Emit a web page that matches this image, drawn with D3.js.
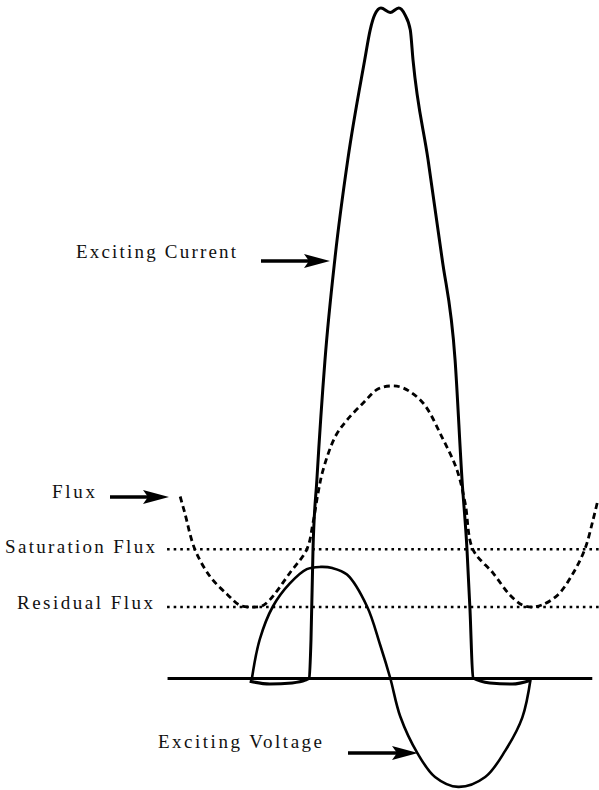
<!DOCTYPE html>
<html>
<head>
<meta charset="utf-8">
<script src="https://cdn.jsdelivr.net/npm/d3@7"></script>
<style>
  body { margin: 0; background: #fff; }
  text { font-family: "Liberation Serif", "Times New Roman", serif; fill: #111; }
</style>
</head>
<body>
<div id="chart"></div>
<script>
// horizontal: electrical degrees, vertical: per-unit (1 = peak voltage)
var voltageDeg = [0, 10, 27, 49, 71, 89, 104, 123, 149, 166, 179, 192, 214, 237, 267, 302, 328, 350, 361];
var voltageVal = [0, 0.35, 0.65, 0.86, 0.99, 1.01, 1.0, 0.94, 0.65, 0.3, 0, -0.35, -0.68, -0.9, -0.99, -0.9, -0.66, -0.36, 0];

var currentDeg = [-3, 23, 52, 69, 74, 76.4, 79, 84, 94.5, 107.5, 124, 146, 153, 159, 167, 179, 190, 198, 205, 208.5, 228, 246, 263, 272, 278.4, 282.3, 286.2, 308, 337, 361];
var currentVal = [-0.03, -0.055, -0.045, -0.02, 0, 0.35, 1.17, 1.8, 2.89, 3.82, 4.71, 5.62, 5.89, 6.03, 6.09, 6.05, 6.09, 6.03, 5.89, 5.62, 4.71, 3.82, 2.89, 1.8, 1.17, 0.62, 0, -0.045, -0.055, -0.02];

var fluxDeg = [-93, -87, -74, -54, -32, -15.5, 1, 13, 23, 49, 71, 79, 85.5, 92, 107.5, 123, 144, 163, 180, 196, 221.5, 246, 265.5, 276, 286, 312, 334, 350, 363, 375.5, 396, 416, 431, 441.6, 448];
var fluxVal = [1.65, 1.5, 1.17, 0.92, 0.76, 0.66, 0.645, 0.655, 0.71, 0.955, 1.17, 1.41, 1.68, 1.89, 2.19, 2.345, 2.5, 2.627, 2.655, 2.636, 2.5, 2.19, 1.89, 1.59, 1.17, 0.955, 0.755, 0.664, 0.645, 0.664, 0.755, 0.955, 1.17, 1.436, 1.62];

var saturationFlux = 1.17;
var residualFlux = 0.645;
var levelExtent = [-110, 449];
var axisExtent = [-110, 440];

var labels = ["Exciting Current", "Flux", "Saturation Flux", "Residual Flux", "Exciting Voltage"];

var width = 599, height = 790;

var x = d3.scaleLinear().domain([0, 360]).range([252, 530]);
var y = d3.scaleLinear().domain([0, 1]).range([678, 568]);

var svg = d3.select("#chart")
  .append("svg")
  .attr("width", width)
  .attr("height", height);

function zipPts(xs, ys) {
  return xs.map(function (d, i) { return [d, ys[i]]; });
}

var line = d3.line()
  .x(function (d) { return x(d[0]); })
  .y(function (d) { return y(d[1]); })
  .curve(d3.curveMonotoneX);

var smooth = d3.line()
  .x(function (d) { return x(d[0]); })
  .y(function (d) { return y(d[1]); })
  .curve(d3.curveCatmullRom.alpha(0.5));

// flux levels (dotted)
[saturationFlux, residualFlux].forEach(function (lv) {
  svg.append("line")
    .attr("x1", x(levelExtent[0]))
    .attr("x2", x(levelExtent[1]))
    .attr("y1", y(lv))
    .attr("y2", y(lv))
    .style("stroke", "#000")
    .style("stroke-width", 2.6)
    .style("stroke-dasharray", "2.6,4");
});

// time axis
var axisScale = x.copy().domain(axisExtent).range([x(axisExtent[0]), x(axisExtent[1])]);
svg.append("g")
  .attr("transform", "translate(0," + y(0) + ")")
  .call(d3.axisBottom(axisScale).tickValues([]).tickSizeOuter(0))
  .select(".domain")
  .style("stroke", "#000")
  .style("stroke-width", 3);

// flux (dashed)
svg.append("path")
  .datum(zipPts(fluxDeg, fluxVal))
  .attr("d", smooth)
  .style("fill", "none")
  .style("stroke", "#000")
  .style("stroke-width", 2.8)
  .style("stroke-dasharray", "6,4");

// exciting voltage
svg.append("path")
  .datum(zipPts(voltageDeg, voltageVal))
  .attr("d", smooth)
  .style("fill", "none")
  .style("stroke", "#000")
  .style("stroke-width", 2.6);

// exciting current
svg.append("path")
  .datum(zipPts(currentDeg, currentVal))
  .attr("d", line)
  .style("fill", "none")
  .style("stroke", "#000")
  .style("stroke-width", 3)
  .style("stroke-linejoin", "round");

// labels
var labelPos = [
  { x: 76, y: 258, w: 160 },
  { x: 52, y: 498, w: 43 },
  { x: 5, y: 553, w: 150 },
  { x: 17, y: 609, w: 136 },
  { x: 158, y: 748, w: 164 }
];

svg.selectAll("text.lbl")
  .data(labels)
  .enter()
  .append("text")
  .attr("class", "lbl")
  .attr("x", function (d, i) { return labelPos[i].x; })
  .attr("y", function (d, i) { return labelPos[i].y; })
  .attr("textLength", function (d, i) { return labelPos[i].w; })
  .attr("lengthAdjust", "spacing")
  .style("font-size", "19px")
  .text(function (d) { return d; });

// arrows
var arrows = [
  { x1: 261, x2: 330, y: 261 },
  { x1: 110, x2: 169, y: 497 },
  { x1: 348, x2: 418, y: 753 }
];

arrows.forEach(function (a) {
  svg.append("line")
    .attr("x1", a.x1)
    .attr("x2", a.x2 - 18)
    .attr("y1", a.y)
    .attr("y2", a.y)
    .style("stroke", "#000")
    .style("stroke-width", 3.5);
  svg.append("path")
    .attr("d", "M" + a.x2 + "," + a.y +
      " L" + (a.x2 - 26) + "," + (a.y - 7) +
      " L" + (a.x2 - 21) + "," + a.y +
      " L" + (a.x2 - 26) + "," + (a.y + 7) + " Z")
    .style("fill", "#000");
});
</script>
</body>
</html>
